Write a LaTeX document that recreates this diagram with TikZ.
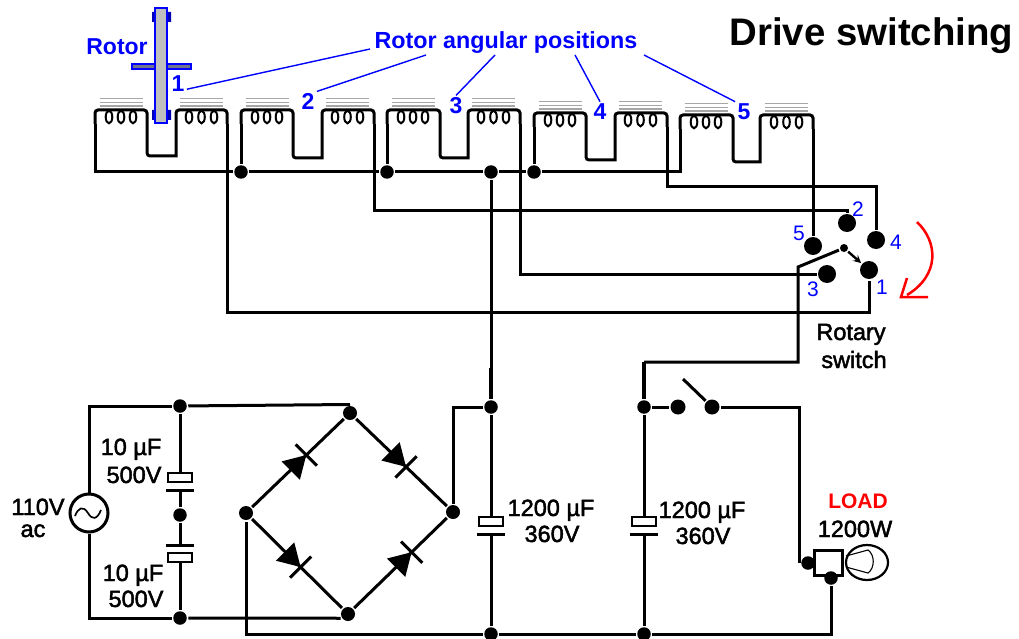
\documentclass[tikz,border=0pt]{standalone}
\usepackage{fontspec}
\setmainfont{Liberation Sans}
\newfontfamily\lblfont[FakeBold=2]{Liberation Sans}
\begin{document}
\begin{tikzpicture}
	[x=1pt,y=-1pt,>=stealth,line width=3pt,
	dot/.style={circle,fill=black,inner sep=0pt,minimum size=13.5pt},
	brnode/.style={circle,fill=black,inner sep=0pt,minimum size=14pt},
	term/.style={circle,fill=black,inner sep=0pt,minimum size=18pt},
	lbl/.style={anchor=base,inner sep=1pt,font=\lblfont\fontsize{23.5}{26}\selectfont},
	num/.style={anchor=base,inner sep=1pt,text=blue,font=\fontsize{21}{24}\selectfont},
	bignum/.style={anchor=base,inner sep=1pt,text=blue,font=\bfseries\fontsize{23}{26}\selectfont},
	lead/.style={draw=blue,line width=1.4pt},
	capac/.pic={
		\fill[white] (-12,-4.5) rectangle (12,12);
		\draw[line width=2.2pt] (-12,-4.5) rectangle (12,4.5);
		\draw (-14,12.5) -- (14,12.5);},
	diode/.pic={
		\fill (0,0) -- (-22,13) -- (-22,-13) -- cycle;
		\draw (0,-15) -- (0,15);}]
	\useasboundingbox (0,0) rectangle (1019,639);
	\node at (871.5,46) [lbl,font=\bfseries\fontsize{38.4}{40}\selectfont] (title) {Drive switching};
	\node at (506,49) [lbl,text=blue,font=\bfseries\fontsize{23.3}{26}\selectfont] (angles) {Rotor angular positions};
	\node at (117,55) [lbl,text=blue,font=\bfseries\fontsize{23}{26}\selectfont] (rotor) {Rotor};
	\node at (178,92) [bignum] (num1) {1};
	\node at (308,110) [bignum] (num2) {2};
	\node at (456,114) [bignum] (num3) {3};
	\node at (600,120) [bignum] (num4) {4};
	\node at (744,120) [bignum] (num5) {5};
	\foreach \n/\a/\b/\c/\d/\t/\u in {1/95/147/176/227/110/156,2/241/293/322/374/110/158,3/387/440/468/520/110/158,4/534/586/615/667/113/160,5/680/733/760/813/115/162}
	{
		\coordinate (coilL\n) at (\a,\t+14);
		\coordinate (coilR\n) at (\d,\t+14);
		\draw[rounded corners=3pt] (coilL\n) -- (\a,\t) -- (\b,\t) -- (\b,\u) [sharp corners] -- (\c,\u) [rounded corners=3pt] -- (\c,\t) -- (\d,\t) -- (coilR\n);
		\foreach \o in {14,26,38,94,106.5,119}
			\draw[line width=2pt] (\a+\o,\t+7) ellipse [x radius=3.3,y radius=6.3];
		\foreach \g in {-11.5,-7.5,-4}
			\draw[gray!70,line width=1.6pt] (\a+4.5,\t+\g) -- (\a+48,\t+\g) (\a+85,\t+\g) -- (\a+128,\t+\g);
	}
	\draw[blue,fill=gray!90!blue,line width=1.3pt] (132,64) rectangle (191,69);
	\fill[blue!70!black] (152,12) rectangle (171,22) (152,110) rectangle (171,120);
	\draw[blue,fill=gray!50,line width=1.6pt] (155,8) rectangle (167,123);
	\coordinate (lead1) at (370,49);
	\coordinate (lead2) at (426,55);
	\coordinate (lead3) at (495,55);
	\coordinate (lead4) at (575,55);
	\coordinate (lead5) at (644,55);
	\draw[lead] (num1.-30) -- (lead1);
	\draw[lead] (num2.north east) -- (lead2);
	\draw[lead] (num3.north) -- (lead3);
	\draw[lead] (num4.north) -- (lead4);
	\draw[lead] (num5.north west) -- (lead5);
	\node at (241,172) [dot] (bus2) {};
	\node at (387,172) [dot] (bus3) {};
	\node at (491,172) [dot] (busC) {};
	\node at (534,172) [dot] (bus4) {};
	\coordinate (busL) at (95,172);
	\coordinate (busR) at (680,172);
	\draw (coilL1) -- (busL) -- (bus2) -- (bus3) -- (busC) -- (bus4) -- (busR) -- (coilL5);
	\draw (bus2) -- (coilL2);
	\draw (bus3) -- (coilL3);
	\draw (bus4) -- (coilL4);
	\node at (869,270) [term] (term1) {};
	\node at (847,223) [term] (term2) {};
	\node at (827,274) [term] (term3) {};
	\node at (876,240) [term] (term4) {};
	\node at (813,246) [term] (term5) {};
	\node at (882,294) [num] (lab1) {1};
	\node at (858,216) [num] (lab2) {2};
	\node at (813,296) [num] (lab3) {3};
	\node at (896,249) [num] (lab4) {4};
	\node at (799,240) [num] (lab5) {5};
	\coordinate (turn1) at (227,312);
	\coordinate (turn2) at (374,210);
	\coordinate (turn4) at (667,187);
	\draw (coilR1) -- (turn1) -| (term1);
	\draw (coilR2) -- (turn2) -| (term2);
	\draw (coilR3) |- (term3);
	\draw (coilR4) -- (turn4) -| (term4);
	\draw (coilR5) -- (term5);
	\coordinate (armA) at (798,267);
	\node at (844,248) [circle,fill=black,inner sep=0pt,minimum size=8pt] (armB) {};
	\coordinate (armC) at (798,362);
	\coordinate (armD) at (644,362);
	\draw (armD) -- (armC) -- (armA) -- (armB);
	\draw[->,line width=2.4pt] (armB) -- (term1);
	\draw[red,line width=2.5pt] (917,222) .. controls (938,242) and (940,275) .. (907,295);
	\draw[red,line width=2.5pt] (907,278) -- (901,297) -- (928,297);
	\node at (851,340) [lbl] (rotary) {Rotary};
	\node at (854,368) [lbl] (switch) {switch};
	\node at (491,407) [dot] (jM) {};
	\node at (644,407) [dot] (jR) {};
	\node at (491,634) [dot] (botM) {};
	\node at (644,634) [dot] (botR) {};
	\coordinate (thickM) at (491,368);
	\draw (busC) -- (jM) -- (botM);
	\draw[line width=4.5pt] (thickM) -- (jM);
	\draw (armD) -- (jR) -- (botR);
	\draw[line width=4.5pt] (armD) -- (jR);
	\pic at (491,521.5) {capac};
	\pic at (644,521.5) {capac};
	\node at (551,516) [lbl] (midval) {1200 µF};
	\node at (552,542) [lbl] (midvolt) {360V};
	\node at (702,518) [lbl] (rightval) {1200 µF};
	\node at (703,544) [lbl] (rightvolt) {360V};
	\node at (678,407) [term,minimum size=15pt] (swA) {};
	\node at (712,407) [term,minimum size=15pt] (swB) {};
	\coordinate (swTip) at (683,379);
	\draw (jR) -- (swA);
	\draw (swB) -- (swTip);
	\node at (350,413) [brnode] (brT) {};
	\node at (453,512) [brnode] (brR) {};
	\node at (348,614) [brnode] (brB) {};
	\node at (246,513) [brnode] (brL) {};
	\draw (brL) -- (brT) pic[pos=.59,rotate=45] {diode};
	\draw (brT) -- (brR) pic[pos=.55,rotate=-45] {diode};
	\draw (brL) -- (brB) pic[pos=.54,rotate=-45] {diode};
	\draw (brB) -- (brR) pic[pos=.62,rotate=45] {diode};
	\draw (brR) |- (jM);
	\node at (89,513) [circle,draw,fill=white,inner sep=0pt,minimum size=38pt] (ac) {};
	\draw[line width=1.7pt] (75,516) .. controls (78,508) and (83,505) .. (88,513) .. controls (92,520) and (97,520) .. (101,510);
	\node at (180,406) [dot] (dA) {};
	\node at (180,515) [dot] (dB) {};
	\node at (180,618) [dot] (dC) {};
	\draw (ac) |- (dA);
	\draw (ac) |- (dC);
	\draw (dA) -- (brT.north);
	\draw (dC) -- (brB.-150);
	\draw (dA) -- (dB) -- (dC);
	\pic at (180,477.5) {capac};
	\pic[yscale=-1] at (180,557.5) {capac};
	\node at (131,455) [lbl] (capAval) {10 µF};
	\node at (134,483) [lbl] (capAvolt) {500V};
	\node at (133,581) [lbl] (capBval) {10 µF};
	\node at (136,607) [lbl] (capBvolt) {500V};
	\node at (38,515) [lbl] (acval) {110V};
	\node at (33,537) [lbl] (acunit) {ac};
	\node at (828,562.5) [draw,fill=white,inner sep=0pt,minimum width=28pt,minimum height=25pt] (lampbase) {};
	\node at (808,563) [dot] (lampL) {};
	\node at (831,578) [dot] (lampB) {};
	\draw[line width=2.2pt,fill=white] (867,562.5) ellipse [x radius=21,y radius=17.5];
	\draw[line width=1.1pt] (846,556) -- (868,550) .. controls (875,555) and (875,568) .. (868,573) -- (846,567);
	\node at (858,508) [lbl,text=red,font=\bfseries\fontsize{21}{24}\selectfont] (load) {LOAD};
	\node at (855,537) [lbl] (watts) {1200W};
	\draw (swB) -| (lampL.west);
	\draw (lampB) |- (botR);
	\draw (botR) -- (botM);
	\draw (botM) -| (brL);
\end{tikzpicture}
\end{document}
